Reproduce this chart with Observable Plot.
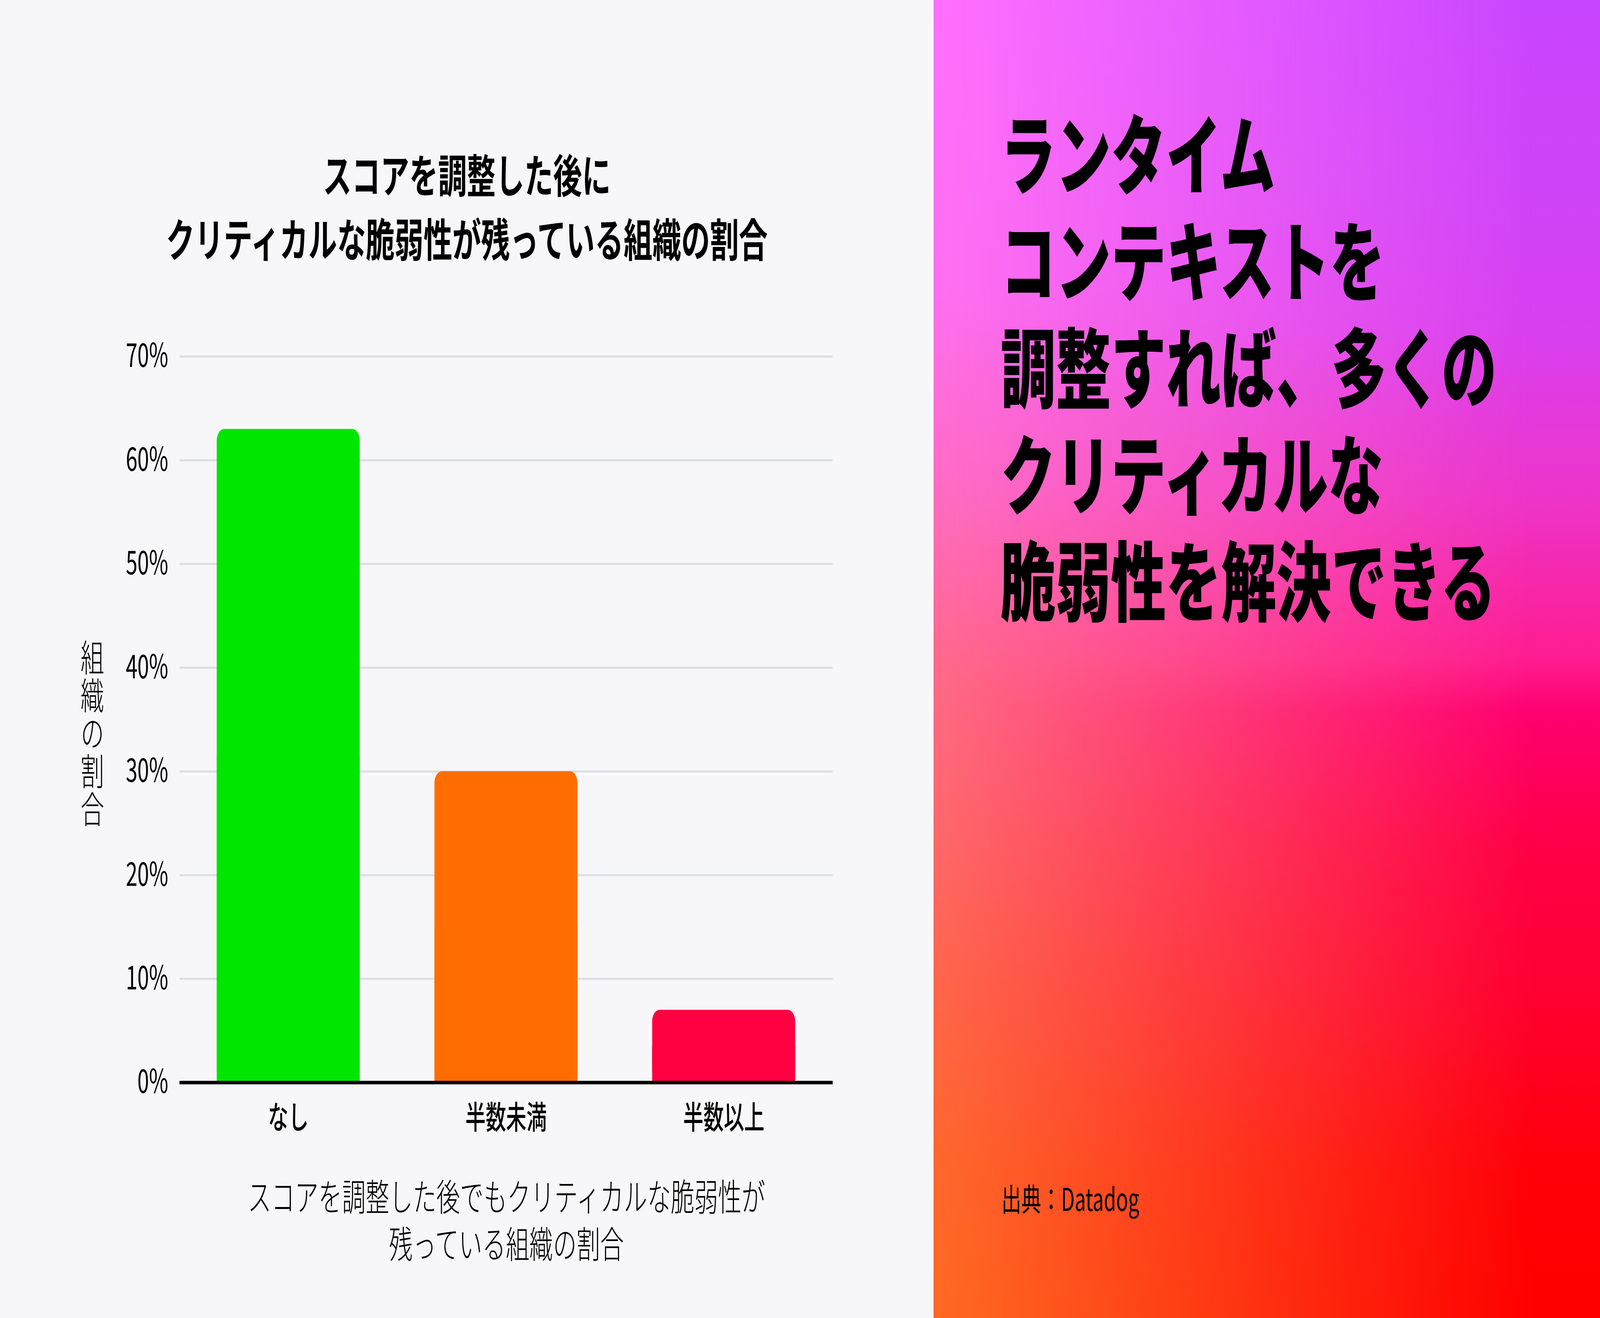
<!DOCTYPE html>
<html>
<head>
<meta charset="utf-8">
<script src="https://cdn.jsdelivr.net/npm/d3@7"></script>
<script src="https://cdn.jsdelivr.net/npm/@observablehq/plot@0.6"></script>
<style>
  html, body { margin: 0; padding: 0; background: #f7f7f9; overflow: hidden; }
  #root { position: absolute; left: 0; top: 0; width: 6445px; height: 3373px; overflow: hidden; transform-origin: 0 0;
    font-family: "Noto Sans CJK JP", "Noto Sans", sans-serif; color: #000; }
  #left { position: absolute; left: 0; top: 0; width: 3761px; height: 3373px; background: #f7f7f9; }
  #chart { position: absolute; left: 0; top: 0; }
  #title { position: absolute; left: 0; top: 360px; width: 3761px; text-align: center; font-size: 116px; font-weight: 700; line-height: 164px; }
  #ylabel { position: absolute; left: 272px; top: 1577px; width: 200px; height: 600px; display: flex; align-items: center; justify-content: center; }
  #ylabel span { writing-mode: vertical-rl; text-orientation: upright; font-size: 95px; font-weight: 300; line-height: 95px; letter-spacing: 2px; }
  #caption { position: absolute; left: 90px; top: 2997px; width: 3900px; text-align: center; font-size: 95px; font-weight: 300; line-height: 121px; }
  #right { position: absolute; left: 3761px; top: 0; width: 2684px; height: 3373px; }
  #gradR, #gradL { position: absolute; left: 0; top: 0; width: 100%; height: 100%; }
  #gradR { background: linear-gradient(to bottom, #c846ff 0%, #d044f8 15%, #d840f0 25%, #ee34c8 38%, #ff1c90 50%, #ff0070 54%, #ff0048 64%, #ff0030 76%, #ff0008 89%, #ff0000 100%); }
  #gradL { background: linear-gradient(to bottom, #ff70ff 0%, #ff70f0 22%, #ff6cc0 38%, #ff6a88 51%, #ff6868 64%, #ff6648 76%, #ff682c 89%, #ff6a22 100%);
    -webkit-mask-image: linear-gradient(to right, #000 0%, rgba(0,0,0,0) 90%); mask-image: linear-gradient(to right, #000 0%, rgba(0,0,0,0) 90%); }
  #headline { position: absolute; left: 270px; top: 247px; }
  #headline div { height: 273px; font-size: 222px; font-weight: 900; line-height: 273px; white-space: nowrap; }
  #source { position: absolute; left: 273px; top: 3016px; font-size: 80px; font-weight: 400; line-height: 96px; white-space: nowrap; }
</style>
</head>
<body>
<div id="root">
  <div id="left">
    <div id="chart"></div>
    <div id="title"></div>
    <div id="ylabel"><span></span></div>
    <div id="caption"></div>
  </div>
  <div id="right">
    <div id="gradR"></div>
    <div id="gradL"></div>
    <div id="headline"></div>
    <div id="source"></div>
  </div>
</div>
<script>
// ---- data ----
const categories = ["なし", "半数未満", "半数以上"];
const values = [63, 30, 7];
const barColors = ["#00e600", "#ff6d00", "#ff0040"];
const yTicks = [0, 10, 20, 30, 40, 50, 60, 70];
const yLabel = "組織の割合";
const titleLines = ["スコアを調整した後に", "クリティカルな脆弱性が残っている組織の割合"];
const captionLines = ["スコアを調整した後でもクリティカルな脆弱性が", "残っている組織の割合"];
const headlineLines = ["ランタイム", "コンテキストを", "調整すれば、多くの", "クリティカルな", "脆弱性を解決できる"];
const sourceText = "出典：Datadog";

const data = categories.map((c, i) => ({category: c, value: values[i], color: barColors[i]}));

document.getElementById("title").innerHTML = titleLines.join("<br>");
document.getElementById("caption").innerHTML = captionLines.join("<br>");
const hl = document.getElementById("headline");
headlineLines.forEach(t => { const d = document.createElement("div"); d.textContent = t; hl.appendChild(d); });
document.getElementById("source").textContent = sourceText;
document.querySelector("#ylabel span").textContent = yLabel;

// fit the 6445x3373 design into whatever window is actually given
function fit() {
  const sx = window.innerWidth / 6445, sy = window.innerHeight / 3373;
  document.getElementById("root").style.transform = `scale(${sx}, ${sy})`;
}
fit();
window.addEventListener("resize", fit);

const chart = Plot.plot({
  width: 3761,
  height: 3373,
  marginTop: 912,
  marginBottom: 603,
  marginLeft: 723,
  marginRight: 407,
  style: {background: "transparent", fontFamily: "'Noto Sans CJK JP', 'Noto Sans', sans-serif", color: "#000", overflow: "visible"},
  x: {domain: categories, paddingInner: 0.343, paddingOuter: 0.1715, label: null},
  y: {domain: [0, 70], label: null},
  marks: [
    Plot.gridY(yTicks, {stroke: "#dcdde0", strokeWidth: 5, strokeOpacity: 1}),
    Plot.barY(data, {x: "category", y: "value", fill: "color", rx: 30}),
    Plot.barY(data, {x: "category", y1: 0, y2: d => d.value / 2, fill: "color"}),
    Plot.ruleY([0], {stroke: "#000", strokeWidth: 9}),
    Plot.axisY({ticks: yTicks, tickFormat: d => d + "%", tickSize: 0, tickPadding: 46, fontSize: 84, label: null}),
    Plot.axisX({tickSize: 0, tickPadding: 60, fontSize: 82, fontWeight: 500, label: null})
  ]
});
document.getElementById("chart").appendChild(chart);
</script>
</body>
</html>
